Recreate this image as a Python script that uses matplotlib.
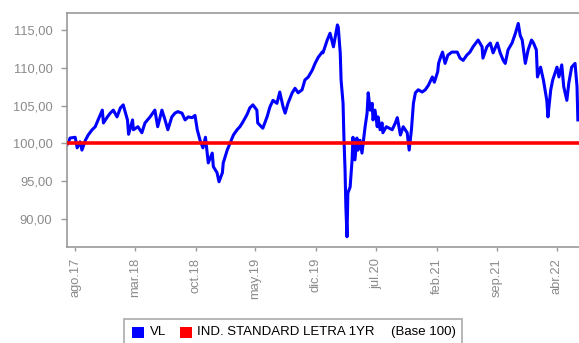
import matplotlib
matplotlib.use("Agg")
import matplotlib.pyplot as plt
import matplotlib.dates as mdates
from matplotlib.patches import Rectangle
import pandas as pd

plt.rcParams['font.family'] = ['Liberation Sans', 'DejaVu Sans']

# NAV series (VL), base 100
vl_dates = [
    '2017-07-03', '2017-07-14', '2017-08-01', '2017-08-08', '2017-08-18', '2017-08-25',
    '2017-09-06', '2017-09-16', '2017-09-30', '2017-10-11', '2017-10-21', '2017-11-05',
    '2017-11-09', '2017-11-23', '2017-12-03', '2017-12-14', '2017-12-27', '2018-01-08',
    '2018-01-18', '2018-02-02', '2018-02-06', '2018-02-20', '2018-02-23', '2018-03-11',
    '2018-03-25', '2018-04-05', '2018-04-23', '2018-05-10', '2018-05-20', '2018-06-04',
    '2018-06-15', '2018-06-25', '2018-07-09', '2018-07-20', '2018-07-30', '2018-08-14',
    '2018-08-25', '2018-09-05', '2018-09-19', '2018-09-29', '2018-10-07', '2018-10-17',
    '2018-10-27', '2018-11-05', '2018-11-11', '2018-11-15', '2018-11-29', '2018-12-03',
    '2018-12-16', '2018-12-23', '2019-01-04', '2019-01-07', '2019-01-21', '2019-02-02',
    '2019-02-12', '2019-02-25', '2019-03-07', '2019-03-17', '2019-04-01', '2019-04-11',
    '2019-04-22', '2019-05-06', '2019-05-09', '2019-05-27', '2019-06-11', '2019-06-21',
    '2019-07-02', '2019-07-16', '2019-07-26', '2019-08-07', '2019-08-14', '2019-08-24',
    '2019-09-08', '2019-09-18', '2019-09-29', '2019-10-13', '2019-10-23', '2019-11-04',
    '2019-11-18', '2019-11-28', '2019-12-09', '2019-12-23', '2019-12-26', '2020-01-10',
    '2020-01-20', '2020-02-01', '2020-02-15', '2020-02-18', '2020-02-25', '2020-02-28',
    '2020-03-06', '2020-03-09', '2020-03-13', '2020-03-16', '2020-03-20', '2020-03-23',
    '2020-03-31', '2020-04-07', '2020-04-10', '2020-04-17', '2020-04-24', '2020-04-28',
    '2020-05-05', '2020-05-12', '2020-05-16', '2020-05-23', '2020-05-30', '2020-06-03',
    '2020-06-10', '2020-06-17', '2020-06-20', '2020-06-27', '2020-07-05', '2020-07-08',
    '2020-07-15', '2020-07-22', '2020-07-25', '2020-08-06', '2020-08-27', '2020-09-07',
    '2020-09-14', '2020-09-25', '2020-10-05', '2020-10-19', '2020-10-26', '2020-11-03',
    '2020-11-10', '2020-11-17', '2020-11-27', '2020-12-11', '2020-12-22', '2021-01-02',
    '2021-01-16', '2021-01-23', '2021-02-04', '2021-02-07', '2021-02-14', '2021-02-21',
    '2021-03-02', '2021-03-12', '2021-03-26', '2021-04-14', '2021-04-24', '2021-05-05',
    '2021-05-18', '2021-05-29', '2021-06-09', '2021-06-27', '2021-07-11', '2021-07-14',
    '2021-07-28', '2021-08-09', '2021-08-19', '2021-09-03', '2021-09-13', '2021-09-24',
    '2021-10-01', '2021-10-11', '2021-10-25', '2021-11-06', '2021-11-16', '2021-11-23',
    '2021-11-30', '2021-12-11', '2021-12-21', '2022-01-02', '2022-01-09', '2022-01-19',
    '2022-01-23', '2022-02-03', '2022-02-13', '2022-02-25', '2022-03-01', '2022-03-11',
    '2022-03-18', '2022-04-02', '2022-04-09', '2022-04-19', '2022-04-26', '2022-05-07',
    '2022-05-14', '2022-05-24', '2022-06-05', '2022-06-12', '2022-06-15',
]
vl_values = [
    99.8, 100.7, 100.8, 99.4, 100.2, 99.1,
    100.4, 101.1, 101.8, 102.2, 103.1, 104.4,
    102.7, 103.5, 104.0, 104.4, 103.5, 104.7,
    105.1, 103.1, 101.2, 103.1, 101.8, 102.2,
    101.4, 102.7, 103.5, 104.4, 102.2, 104.4,
    103.1, 101.8, 103.5, 104.0, 104.2, 104.0,
    103.1, 103.5, 103.4, 103.7, 101.8, 100.4,
    99.4, 100.8, 98.7, 97.4, 98.7, 96.9,
    96.1, 94.9, 96.1, 97.4, 99.1, 100.2,
    101.1, 101.8, 102.2, 102.8, 103.8, 104.7,
    105.1, 104.4, 102.7, 102.0, 103.5, 104.8,
    105.7, 105.3, 106.8, 104.8, 104.0, 105.3,
    106.7, 107.3, 106.7, 107.1, 108.4, 108.8,
    109.7, 110.6, 111.4, 112.1, 112.0, 113.7,
    114.6, 112.8, 115.7, 115.4, 112.0, 108.4,
    105.3, 100.8, 96.5, 91.5, 87.6, 93.4,
    94.2, 97.8, 100.8, 97.8, 100.7, 99.1,
    100.4, 98.7, 100.0, 102.2, 104.0, 106.7,
    104.4, 105.3, 103.1, 104.4, 102.2, 103.5,
    101.8, 102.7, 101.4, 102.2, 101.8, 102.7,
    103.4, 101.1, 102.2, 101.4, 99.1, 101.8,
    105.3, 106.7, 107.1, 106.8, 107.1, 107.7,
    108.8, 108.1, 109.5, 110.6, 111.4, 112.1,
    110.6, 111.7, 112.1, 112.1, 111.3, 111.0,
    111.7, 112.1, 112.8, 113.7, 112.8, 111.3,
    112.8, 113.3, 112.0, 113.3, 112.0, 111.0,
    110.6, 112.4, 113.3, 114.6, 115.9, 114.3,
    113.7, 110.6, 112.4, 113.7, 113.3, 112.4,
    108.8, 110.1, 108.4, 105.7, 103.5, 107.1,
    108.4, 110.1, 108.8, 110.4, 107.5, 105.7,
    108.0, 110.1, 110.6, 107.5, 103.1,
]

# benchmark: IND. STANDARD LETRA 1YR, base 100 (flat)
bench_dates = ['2017-07-03', '2022-06-19']
bench_values = [100.0, 100.0]

tick_dates = ['2017-08-01', '2018-03-01', '2018-10-01', '2019-05-01', '2019-12-01',
              '2020-07-01', '2021-02-01', '2021-09-01', '2022-04-01']
tick_labels = ['ago.17', 'mar.18', 'oct.18', 'may.19', 'dic.19',
               'jul.20', 'feb.21', 'sep.21', 'abr.22']
y_ticks = [90, 95, 100, 105, 110, 115]

legend_labels = ['VL', 'IND. STANDARD LETRA 1YR', '(Base 100)']

fig = plt.figure(figsize=(5.79, 3.43), dpi=100)
ax = fig.add_axes([0.1157, 0.280, 0.8843, 0.682])

ax.plot(pd.to_datetime(vl_dates), vl_values, color='#0000ff', lw=2.2, zorder=2)
ax.plot(pd.to_datetime(bench_dates), bench_values, color='#ff0000', lw=2.6, zorder=3)

ax.set_xlim(pd.Timestamp('2017-07-03'), pd.Timestamp('2022-06-19'))
ax.set_ylim(86.25, 117.28)

ax.set_yticks(y_ticks)
ax.set_yticklabels([('%.2f' % v).replace('.', ',') for v in y_ticks])
ax.set_xticks(pd.to_datetime(tick_dates))
ax.set_xticklabels(tick_labels, rotation=90, va='top', ha='center')

gray = '#9a9a9a'
for s in ['left', 'top', 'bottom']:
    ax.spines[s].set_color(gray)
    ax.spines[s].set_linewidth(1.2)
ax.spines['right'].set_visible(False)
ax.tick_params(axis='y', colors=gray, length=4, width=1, pad=6.5, labelsize=9.3,
               labelcolor='#8a8a8a')
ax.tick_params(axis='x', colors=gray, length=3, width=1, pad=5, labelsize=9.3,
               labelcolor='#8a8a8a')

# legend box drawn by hand
fig.patches.append(Rectangle((0.2142, -0.02), 0.5838, 0.09, transform=fig.transFigure,
                             fill=False, edgecolor='#aaaaaa', lw=1.2))
fig.patches.append(Rectangle((0.228, 0.0146), 0.0207, 0.032, transform=fig.transFigure,
                             facecolor='#0000ff', edgecolor='none'))
fig.patches.append(Rectangle((0.3109, 0.0146), 0.0207, 0.032, transform=fig.transFigure,
                             facecolor='#ff0000', edgecolor='none'))
fig.text(0.259, 0.031, legend_labels[0], fontsize=9.5, va='center', color='black')
fig.text(0.3394, 0.031, legend_labels[1], fontsize=9.5, va='center', color='black')
fig.text(0.6753, 0.031, legend_labels[2], fontsize=9.5, va='center', color='black')

fig.savefig('out.png', dpi=100)
